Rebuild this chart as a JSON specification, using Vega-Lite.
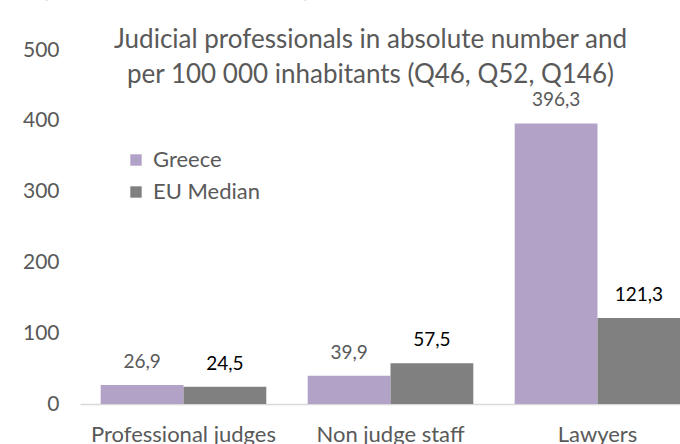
{
  "$schema": "https://vega.github.io/schema/vega-lite/v6.json",
  "width": 621,
  "height": 354,
  "autosize": {"type": "none"},
  "padding": {"left": 80, "top": 50, "right": 0, "bottom": 40},
  "background": "white",
  "config": {
    "font": "Lato",
    "view": {"stroke": null},
    "locale": {"number": {"decimal": ",", "thousands": " ", "grouping": [3], "currency": ["", "€"]}}
  },
  "encoding": {
    "x": {
      "field": "category",
      "type": "nominal",
      "sort": ["Professional judges", "Non judge staff", "Lawyers"],
      "scale": {"paddingInner": 0.2, "paddingOuter": 0.1},
      "axis": {
        "title": null,
        "labelAngle": 0,
        "labelFontSize": 22,
        "labelColor": "#595959",
        "labelPadding": 20,
        "labelLimit": 0,
        "ticks": false,
        "domainColor": "#d9d9d9",
        "domainWidth": 1.5
      }
    },
    "y": {
      "field": "value",
      "type": "quantitative",
      "scale": {"domain": [0, 500], "nice": false},
      "axis": {
        "title": null,
        "values": [0, 100, 200, 300, 400, 500],
        "format": "d",
        "grid": false,
        "domain": false,
        "ticks": false,
        "labelFontSize": 21,
        "labelColor": "#595959",
        "labelPadding": 21
      }
    }
  },
  "layer": [
    {
      "data": {
        "values": [
          {"category": "Professional judges", "series": "Greece", "value": 26.9},
          {"category": "Professional judges", "series": "EU Median", "value": 24.5},
          {"category": "Non judge staff", "series": "Greece", "value": 39.9},
          {"category": "Non judge staff", "series": "EU Median", "value": 57.5},
          {"category": "Lawyers", "series": "Greece", "value": 396.3},
          {"category": "Lawyers", "series": "EU Median", "value": 121.3}
        ]
      },
      "layer": [
        {
          "mark": {"type": "bar"},
          "encoding": {
            "xOffset": {"field": "series", "type": "nominal", "sort": ["Greece", "EU Median"], "scale": {"paddingInner": 0, "paddingOuter": 0}},
            "color": {
              "field": "series",
              "type": "nominal",
              "sort": ["Greece", "EU Median"],
              "scale": {"domain": ["Greece", "EU Median"], "range": ["#B3A2C7", "#808080"]},
              "legend": {
                "title": null,
                "orient": "none",
                "legendX": 45,
                "legendY": 99,
                "symbolType": "square",
                "symbolSize": 130,
                "symbolStrokeWidth": 0,
                "labelFontSize": 22,
                "labelColor": "#595959",
                "rowPadding": 10,
                "labelOffset": 6
              }
            }
          }
        },
        {
          "mark": {"type": "text", "baseline": "alphabetic", "dy": -17, "fontSize": 19},
          "encoding": {
            "xOffset": {"field": "series", "type": "nominal", "sort": ["Greece", "EU Median"]},
            "text": {"field": "value", "type": "quantitative", "format": ".1f"},
            "color": {
              "condition": {"test": "datum.series === 'EU Median'", "value": "#000000"},
              "value": "#595959"
            }
          }
        }
      ]
    },
    {
      "data": {"values": [{"category": "Non judge staff", "value": 503}]},
      "mark": {
        "type": "text",
        "text": ["Judicial professionals in absolute number and", "per 100 000 inhabitants (Q46, Q52, Q146)"],
        "fontSize": 26,
        "color": "#595959",
        "align": "center",
        "baseline": "alphabetic",
        "lineHeight": 35,
        "dx": -20
      }
    },
    {
      "data": {"values": [{"category": "Professional judges", "value": 577}]},
      "mark": {
        "type": "text",
        "text": "(Q46, Q52, Q146)",
        "fontSize": 34,
        "fontWeight": "bold",
        "color": "#000000",
        "align": "left",
        "baseline": "alphabetic",
        "dx": -143
      }
    }
  ]
}
